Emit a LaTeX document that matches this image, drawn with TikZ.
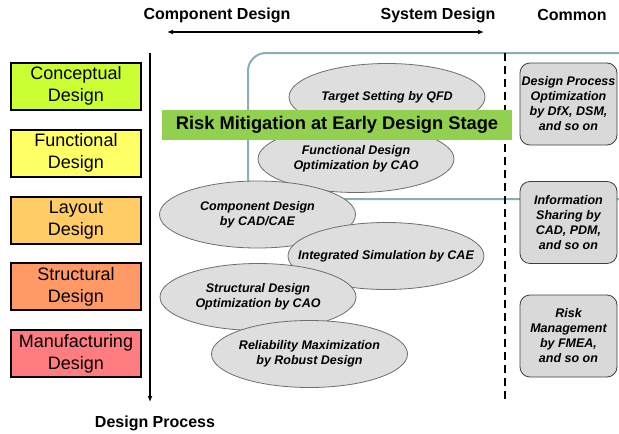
\documentclass[tikz,border=0pt]{standalone}
\usepackage{fontspec}
\setmainfont{Liberation Sans}
\usepackage{tikz}
\usetikzlibrary{arrows.meta,shapes.geometric}
\definecolor{concept}{HTML}{CCFF33}
\definecolor{function}{HTML}{FFFF66}
\definecolor{layout}{HTML}{FFCC66}
\definecolor{struct}{HTML}{FF9966}
\definecolor{manuf}{HTML}{FF7C80}
\definecolor{riskgreen}{HTML}{92D050}
\definecolor{frameblue}{HTML}{8AAFB2}
\definecolor{ovalfill}{HTML}{DEDEDE}
\definecolor{ovalline}{HTML}{6E6E6E}
\definecolor{commonfill}{HTML}{D9D9D9}
\begin{document}
\begin{tikzpicture}[x=1pt,y=-1pt,
  stage/.style={draw=black,line width=2pt,minimum width=130pt,minimum height=47pt,inner sep=0pt,align=center,font=\fontsize{18}{22}\selectfont},
  oval/.style={ellipse,draw=ovalline,fill=ovalfill,line width=0.8pt,minimum width=196pt,minimum height=67pt,inner sep=0pt},
  ovaltxt/.style={align=center,inner sep=0pt,font=\fontsize{12.5}{15}\selectfont\bfseries\itshape},
  common/.style={draw=black!75,fill=commonfill,line width=0.8pt,rounded corners=10pt,minimum width=97pt,minimum height=82pt,inner sep=0pt,align=center,font=\fontsize{12.5}{15}\selectfont\bfseries\itshape},
  heading/.style={font=\fontsize{16}{19}\selectfont\bfseries,inner sep=0pt}]
\clip (0,0) rectangle (619,434);
\draw[frameblue,line width=2pt,rounded corners=18pt] (248,53) rectangle (650,199);
\coordinate (dtop) at (505,53);
\coordinate (dbot) at (505,402);
\draw[line width=2.5pt,dash pattern=on 8pt off 5pt] (dtop) -- (dbot);
\node[stage,fill=concept] (concept) at (76,86) {Conceptual\\Design};
\node[stage,fill=function] (function) at (76,153) {Functional\\Design};
\node[stage,fill=layout] (layout) at (76,220) {Layout\\Design};
\node[stage,fill=struct] (struct) at (76,286.5) {Structural\\Design};
\node[stage,fill=manuf] (manuf) at (76,353.5) {Manufacturing\\Design};
\coordinate (ptop) at (150,53);
\coordinate (pbot) at (150,402);
\draw[line width=1.3pt,-{Latex[length=6pt,width=5pt]}] (ptop) -- (pbot);
\node[heading] (process) at (155,423) {Design Process};
\node[heading] (comp) at (217,15) {Component Design};
\node[heading] (sys) at (438,15) {System Design};
\node[heading] (comm) at (572,15) {Common};
\coordinate (aleft) at (167,32);
\coordinate (aright) at (484,32);
\draw[line width=1.3pt,{Latex[length=6pt,width=5pt]}-{Latex[length=6pt,width=5pt]}] (aleft) -- (aright);
\node[oval] (qfd) at (387,97) {};
\node[ovaltxt] (qfdtxt) at (qfd) {Target Setting by QFD};
\node[oval] (fdo) at (356,159) {};
\node[ovaltxt] (fdotxt) at (fdo) {Functional Design\\Optimization by CAO};
\node[fill=riskgreen,minimum width=350pt,minimum height=30pt,inner sep=0pt,font=\fontsize{18.3}{22}\selectfont\bfseries] (risk) at (337,125) {Risk Mitigation at Early Design Stage};
\node[oval] (cad) at (257.5,214.5) {};
\node[ovaltxt] (cadtxt) at (cad) {Component Design\\by CAD/CAE};
\node[oval] (sim) at (386,256) {};
\node[ovaltxt] (simtxt) at (sim) {Integrated Simulation by CAE};
\node[oval] (sdo) at (258,297) {};
\node[ovaltxt] (sdotxt) at (sdo) {Structural Design\\Optimization by CAO};
\node[oval] (rob) at (309.5,354) {};
\node[ovaltxt] (robtxt) at (rob) {Reliability Maximization\\by Robust Design};
\node[common] (dpo) at (568.5,104) {Design Process\\Optimization\\by DfX, DSM,\\and so on};
\node[common] (info) at (568.5,222.5) {Information\\Sharing by\\CAD, PDM,\\and so on};
\node[common] (fmea) at (568.5,336) {Risk\\Management\\by FMEA,\\and so on};
\end{tikzpicture}
\end{document}
